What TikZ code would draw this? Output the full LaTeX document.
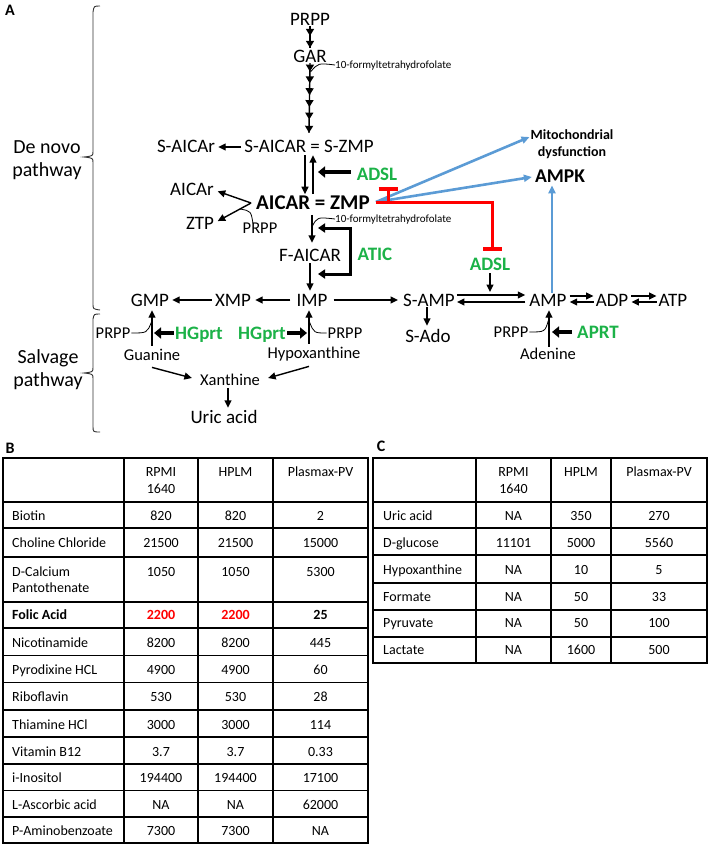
\documentclass[tikz,border=0pt]{standalone}
\usepackage{fontspec}
\setmainfont{Carlito}
\usetikzlibrary{arrows.meta,calc,decorations.markings}
\definecolor{enzg}{RGB}{28,178,72}
\definecolor{inhr}{RGB}{255,0,0}
\definecolor{actb}{RGB}{91,155,213}
\tikzset{
  lab/.style={font=\fontsize{19}{22}\selectfont, inner sep=0pt, text height=12pt, text depth=0pt},
  labb/.style={font=\fontsize{21}{24}\selectfont\bfseries, inner sep=0pt, text height=13.3pt, text depth=0pt},
  sml/.style={font=\fontsize{16.5}{19}\selectfont, inner sep=0pt, text height=10.4pt, text depth=0pt},
  tny/.style={font=\fontsize{11}{13}\selectfont, inner sep=0pt, text height=7pt, text depth=0pt},
  enz/.style={font=\fontsize{19}{22}\selectfont\bfseries, text=enzg, inner sep=0pt, text height=12pt, text depth=0pt},
  tc/.style={font=\fontsize{14}{17}\selectfont, inner sep=0pt, text height=8.8pt, text depth=0pt},
  tcb/.style={tc, font=\fontsize{14}{17}\selectfont\bfseries},
  side/.style={font=\fontsize{20}{23}\selectfont, align=center, inner sep=0pt},
  panel/.style={font=\fontsize{16}{18}\selectfont\bfseries, inner sep=0pt},
  arr/.style={line width=1.4pt, -{Triangle[length=7.5pt,width=7pt]}},
  fat/.style={line width=4.5pt, -{Triangle[length=7pt,width=11pt]}},
  bracketln/.style={line width=3pt, {Triangle[length=7pt,width=9pt]}-{Triangle[length=7pt,width=9pt]}},
  crv/.style={line width=0.8pt},
  inh/.style={line width=3pt, inhr, -{Bar[width=19pt,line width=3.5pt]}},
  act/.style={line width=2.6pt, actb, -{Triangle[length=8pt,width=7pt]}},
  brc/.style={line width=0.9pt, black!80},
  tbl/.style={line width=1.9pt},
}
\begin{document}
\begin{tikzpicture}[x=1pt,y=-1pt]
\useasboundingbox (0,0) rectangle (708,845);

% ---------- panel labels and braces ----------
\node[panel] (pA) at (10,10) {A};
\node[panel] (pB) at (10,448) {B};
\node[panel] (pC) at (381,446) {C};
\node[side] (denovo) at (47,160) {De novo\\pathway};
\node[side] (salvage) at (48,370) {Salvage\\pathway};
\draw[brc] (100,6) .. controls (94,6) .. (93,12) -- (93,151) .. controls (93,156) .. (84,157) .. controls (93,158) .. (93,163) -- (93,304) .. controls (93,309) .. (100,310);
\draw[brc] (100,314) .. controls (94,314) .. (93,319) -- (93,367) .. controls (93,372) .. (84,373) .. controls (93,374) .. (93,379) -- (93,426) .. controls (93,432) .. (100,432);

% ---------- nodes ----------
\node[lab] (prpp) at (310,20) {PRPP};
\node[lab] (gar) at (310,57) {GAR};
\node[tny, anchor=west] (tfa) at (335,65) {10-formyltetrahydrofolate};
\node[lab] (saicarr) at (186,147) {S-AICAr};
\node[lab] (saicar) at (309,147) {S-AICAR = S-ZMP};
\node[enz] (adslA) at (377,175) {ADSL};
\node[labb] (aicar) at (313,203) {AICAR = ZMP};
\node[lab] (aicarr) at (192,190) {AICAr};
\node[lab] (ztp) at (200,223) {ZTP};
\node[sml] (prppB) at (260,228) {PRPP};
\node[tny, anchor=west] (tfb) at (335,219) {10-formyltetrahydrofolate};
\node[lab] (faicar) at (310,255) {F-AICAR};
\node[enz] (atic) at (375,254) {ATIC};
\node[lab] (imp) at (312,300) {IMP};
\node[lab] (xmp) at (233,300) {XMP};
\node[lab] (gmp) at (150,300) {GMP};
\node[lab] (samp) at (429,300) {S-AMP};
\node[enz] (adslB) at (490,264) {ADSL};
\node[lab] (amp) at (548,300) {AMP};
\node[lab] (adp) at (612,300) {ADP};
\node[lab] (atp) at (673,300) {ATP};
\node[lab] (sado) at (428,336) {S-Ado};
\node[sml] (adenine) at (548,354) {Adenine};
\node[sml] (prppC) at (511,332) {PRPP};
\node[enz] (aprt) at (598,332) {APRT};
\node[font=\fontsize{19.5}{22}\selectfont\bfseries, inner sep=0pt, text height=12.3pt, text depth=0pt] (ampk) at (560,176) {AMPK};
\node[font=\fontsize{14}{17}\selectfont\bfseries, align=center, inner sep=0pt] (mito) at (572,144) {Mitochondrial\\dysfunction};
\node[sml] (prppD) at (113,333) {PRPP};
\node[enz] (hg1) at (199,333) {HGprt};
\node[enz] (hg2) at (262,333) {HGprt};
\node[sml] (prppE) at (345,333) {PRPP};
\node[sml] (guanine) at (152,355) {Guanine};
\node[sml] (hypox) at (314,353) {Hypoxanthine};
\node[sml] (xan) at (230,380) {Xanthine};
\node[lab] (uric) at (224,417) {Uric acid};

% ---------- de novo chain ----------
\draw[line width=1.4pt, decoration={markings,
   mark=at position 0.45 with {\arrow{Triangle[length=7pt,width=8pt]}},
   mark=at position 1 with {\arrow{Triangle[length=7pt,width=8pt]}}}, postaction={decorate}]
   (prpp.south) -- ($(gar.north)+(0,-3)$);
\draw[line width=1.4pt, decoration={markings,
   mark=at position 0.12 with {\arrow{Triangle[length=7pt,width=8pt]}},
   mark=at position 0.29 with {\arrow{Triangle[length=7pt,width=8pt]}},
   mark=at position 0.46 with {\arrow{Triangle[length=7pt,width=8pt]}},
   mark=at position 0.63 with {\arrow{Triangle[length=7pt,width=8pt]}},
   mark=at position 0.81 with {\arrow{Triangle[length=7pt,width=8pt]}},
   mark=at position 1 with {\arrow{Triangle[length=7pt,width=8pt]}}}, postaction={decorate}]
   (gar.south) -- ($(saicar.north)+(0,-8)$);
\draw[crv] (tfa.west) .. controls (318,63) .. (310.5,72);

\draw[arr, shorten <=3pt, shorten >=3pt] (saicar.west) -- (saicarr.east);
\draw[arr, shorten <=2pt, shorten >=2pt] (305,0 |- saicar.south) -- (305,0 |- aicar.north);
\draw[arr, shorten <=2pt, shorten >=2pt] (313,0 |- aicar.north) -- (313,0 |- saicar.south);
\coordinate (rA) at (318,172);
\draw[fat] ($(adslA.west)+(-6,-3)$) -- (rA);

\draw[arr, shorten >=4pt] ($(aicar.west)+(-5,0)$) -- (aicarr.east);
\draw[arr, shorten >=4pt] ($(aicar.west)+(-5,0)$) -- (ztp.east);
\draw[crv] ($(prppB.north)+(-7,1)$) .. controls (251,211) .. (240,209);

\draw[arr, shorten <=5pt, shorten >=6pt] (312,0 |- aicar.south) -- (312,0 |- faicar.north);
\draw[crv] (tfb.west) .. controls (317,217) .. (312,227);
\coordinate (atA) at (318,228);
\coordinate (atB) at (318,274);
\draw[bracketln] (atA) -- (350,228) -- (350,274) -- (atB);

\draw[arr, shorten <=2pt, shorten >=3pt] (310,0 |- faicar.south) -- (310,0 |- imp.north);
\draw[arr, shorten <=6pt, shorten >=4pt] (imp.west) -- (xmp.east);
\draw[arr, shorten <=3pt, shorten >=3pt] (xmp.west) -- (gmp.east);
\draw[arr, shorten <=6pt, shorten >=5pt] (imp.east) -- (samp.west);

\draw[arr] ($(samp.east)+(2,-5)$) -- ($(amp.west)+(-4,-5)$);
\draw[arr] ($(amp.west)+(-4,2)$) -- ($(samp.east)+(2,2)$);
\coordinate (rB) at (490,292);
\draw[arr, shorten <=3pt] (adslB.south) -- (rB);

\draw[arr] ($(amp.east)+(3,-4)$) -- ($(adp.west)+(-2,-4)$);
\draw[arr] ($(adp.west)+(-2,2)$) -- ($(amp.east)+(3,2)$);
\draw[arr] ($(adp.east)+(3,-4)$) -- ($(atp.west)+(-2,-4)$);
\draw[arr] ($(atp.west)+(-2,2)$) -- ($(adp.east)+(3,2)$);

\draw[arr, shorten <=1pt, shorten >=4pt] (427,0 |- samp.south) -- (427,0 |- sado.north);

% ---------- AICAR effects ----------
\draw[act] ($(aicar.east)+(6,-1)$) -- ($(mito.west)+(-1,-7)$);
\draw[act] ($(aicar.east)+(6,-1)$) -- ($(ampk.west)+(-3,1)$);
\draw[act, shorten <=1pt, shorten >=3pt] (552,0 |- amp.north) -- (552,0 |- ampk.south);
\draw[inh] ($(aicar.east)+(6,-1)$) -| ($(adslB.north)+(2,-7)$);
\draw[inh] (388,0 |- aicar.east) -- ($(adslA.south)+(11,6)$);

% ---------- salvage ----------
\draw[arr, shorten <=2pt, shorten >=4pt] (549,0 |- adenine.north) -- (549,0 |- amp.south);
\draw[crv] ($(prppC.east)+(1,0)$) .. controls (545,332) .. (548.5,320);
\draw[fat] ($(aprt.west)+(-5,0)$) -- (552,0 |- aprt.west);

\draw[arr, shorten <=4pt, shorten >=4pt] (152,0 |- guanine.north) -- (152,0 |- gmp.south);
\draw[crv] ($(prppD.east)+(1,0)$) .. controls (147,333) .. (151.5,322);
\draw[fat] ($(hg1.west)+(-1,0)$) -- (154,0 |- hg1.west);

\draw[arr, shorten <=4pt, shorten >=4pt] (309,0 |- hypox.north) -- (309,0 |- imp.south);
\draw[crv] ($(prppE.west)+(-1,0)$) .. controls (314,333) .. (309.5,322);
\draw[fat] ($(hg2.east)+(1,0)$) -- (307,0 |- hg2.east);

\draw[arr] ($(guanine.south)+(0,7)$) -- ($(xan.west)+(-8,-2)$);
\draw[arr] ($(hypox.south)+(-5,8)$) -- ($(xan.east)+(8,-2)$);
\draw[arr, shorten <=3pt, shorten >=3pt] (228,0 |- xan.south) -- (228,0 |- uric.north);

% ---------- table B ----------
\draw[tbl] (3,458) rectangle (368,843);
\foreach \xx in {124,198,273} \draw[tbl] (\xx,458) -- (\xx,843);
\foreach \yy in {502,528,557,602,628,655.5,682.5,710,737,764,790.5,817} \draw[tbl] (3,\yy) -- (368,\yy);
\node[tc] (bh1a) at (161,472) {RPMI};
\node[tc] (bh1b) at (161,489) {1640};
\node[tc] (bh2) at (235.5,472) {HPLM};
\node[tc] (bh3) at (320.5,472) {Plasmax-PV};
\foreach \yy/\nm/\va/\vb/\vc [count=\ii] in {
  516/Biotin/820/820/2,
  543/Choline Chloride/21500/21500/15000,
  643/Nicotinamide/8200/8200/445,
  670.5/Pyrodixine HCL/4900/4900/60,
  697.5/Riboflavin/530/530/28,
  725/Thiamine HCl/3000/3000/114,
  752/Vitamin B12/3.7/3.7/0.33,
  778.5/i-Inositol/194400/194400/17100,
  805.3/L-Ascorbic acid/NA/NA/62000,
  831.5/P-Aminobenzoate/7300/7300/NA} {
  \node[tc, anchor=west] (bn\ii) at (12,\yy) {\nm};
  \node[tc] (ba\ii) at (161,\yy) {\va};
  \node[tc] (bb\ii) at (235.5,\yy) {\vb};
  \node[tc] (bc\ii) at (320.5,\yy) {\vc};
}
\node[tc, anchor=west] (bdc1) at (12,572) {D-Calcium};
\node[tc, anchor=west] (bdc2) at (12,588) {Pantothenate};
\node[tc] (bdca) at (161,572) {1050};
\node[tc] (bdcb) at (235.5,572) {1050};
\node[tc] (bdcc) at (320.5,572) {5300};
\node[tcb, anchor=west] (bfo) at (12,615) {Folic Acid};
\node[tcb, text=inhr] (bfoa) at (161,615) {2200};
\node[tcb, text=inhr] (bfob) at (235.5,615) {2200};
\node[tcb] (bfoc) at (320.5,615) {25};

% ---------- table C ----------
\draw[tbl] (373,458) rectangle (707,663);
\foreach \xx in {476,551,611} \draw[tbl] (\xx,458) -- (\xx,663);
\foreach \yy in {502,528,555,583,610,637} \draw[tbl] (373,\yy) -- (707,\yy);
\node[tc] (ch1a) at (513.5,472) {RPMI};
\node[tc] (ch1b) at (513.5,489) {1640};
\node[tc] (ch2) at (581,472) {HPLM};
\node[tc] (ch3) at (659,472) {Plasmax-PV};
\foreach \yy/\nm/\va/\vb/\vc [count=\ii] in {
  516/Uric acid/NA/350/270,
  543/D-glucose/11101/5000/5560,
  570/Hypoxanthine/NA/10/5,
  597/Formate/NA/50/33,
  623.5/Pyruvate/NA/50/100,
  650/Lactate/NA/1600/500} {
  \node[tc, anchor=west] (cn\ii) at (383,\yy) {\nm};
  \node[tc] (ca\ii) at (513.5,\yy) {\va};
  \node[tc] (cb\ii) at (581,\yy) {\vb};
  \node[tc] (cc\ii) at (659,\yy) {\vc};
}
\end{tikzpicture}
\end{document}
